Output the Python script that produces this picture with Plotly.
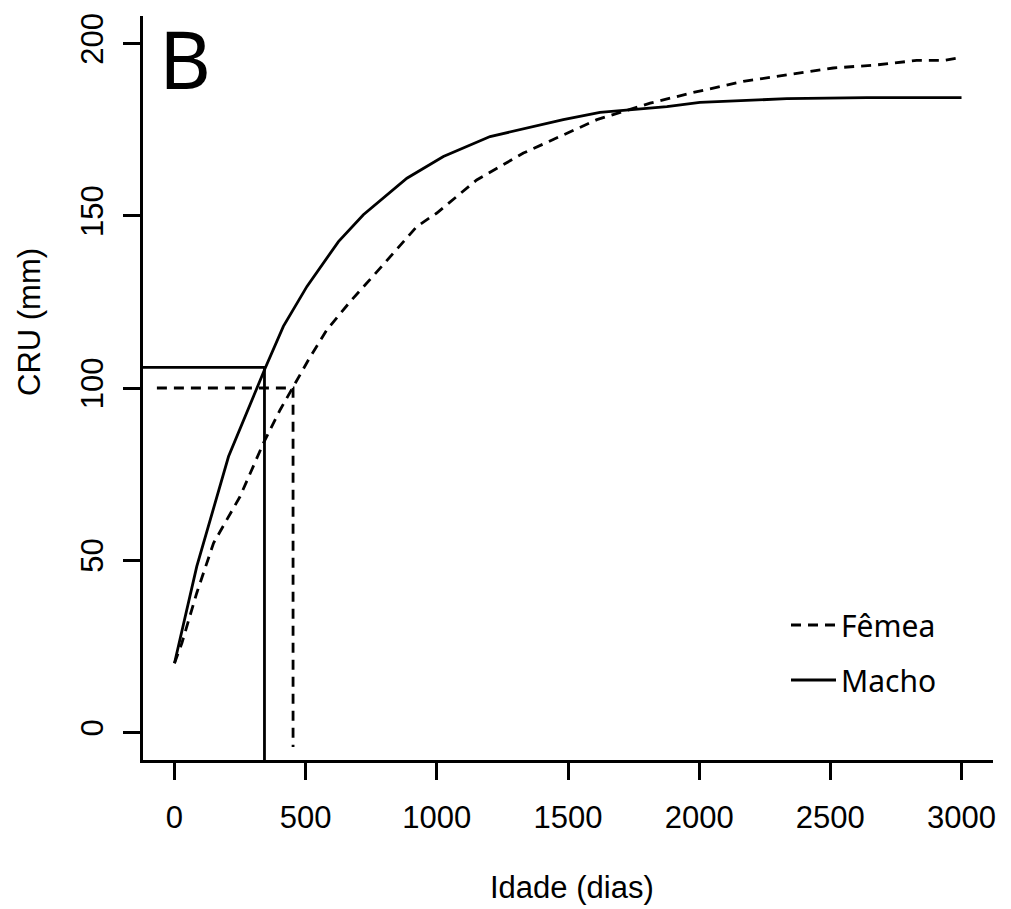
import plotly.graph_objects as go

# Growth curves (idade em dias vs CRU em mm)
macho_x = [0, 85, 206, 327, 346, 415, 505, 625, 720, 886, 1025, 1203, 1482, 1622,
           1877, 2003, 2156, 2334, 2639, 3000]
macho_y = [20.1, 48.2, 80.1, 102.4, 105.8, 117.9, 129.5, 142.5, 150.3, 160.9, 167.2,
           173.0, 177.9, 180.0, 181.7, 182.9, 183.5, 184.0, 184.3, 184.3]

femea_x = [0, 28, 85, 149, 250, 339, 403, 453, 511, 581, 670, 784, 924, 1000, 1152,
           1330, 1496, 1610, 1813, 1978, 2168, 2296, 2511, 2677, 2829, 2931, 3000]
femea_y = [20.1, 25.9, 40.5, 55.0, 68.5, 84.0, 93.7, 100.4, 108.2, 116.9, 125.1, 134.8,
           146.9, 150.8, 160.4, 168.2, 174.0, 177.9, 182.7, 185.8, 189.0, 190.4, 192.9,
           193.8, 195.1, 195.1, 196.0]

# Reference lines (age at which each sex reaches the marked length)
macho_ref_x = [-120, 343, 343]
macho_ref_y = [106, 106, -8]
femea_ref_x = [-67, 452, 452]
femea_ref_y = [100, 100, -4.2]

x_ticks = [0, 500, 1000, 1500, 2000, 2500, 3000]
y_ticks = [0, 50, 100, 150, 200]

x_title = "Idade (dias)"
y_title = "CRU (mm)"
panel_label = "B"

# layout geometry (pixels)
W, H = 1011, 909
L, R, T, B = 143, 18, 16, 149
pw, ph = W - L - R, H - T - B


def px_x(p):
    return (p - L) / pw


def px_y(p):
    return (H - B - p) / ph


DASH = "10px,7px"
LW = 2.8

fig = go.Figure()
fig.add_trace(go.Scatter(x=femea_x, y=femea_y, mode="lines", name="Fêmea",
                         legendgroup="f",
                         line=dict(color="black", width=LW, dash=DASH)))
fig.add_trace(go.Scatter(x=macho_x, y=macho_y, mode="lines", name="Macho",
                         legendgroup="m",
                         line=dict(color="black", width=LW)))
fig.add_trace(go.Scatter(x=macho_ref_x, y=macho_ref_y, mode="lines", showlegend=False,
                         line=dict(color="black", width=LW), hoverinfo="skip"))
fig.add_trace(go.Scatter(x=femea_ref_x, y=femea_ref_y, mode="lines", showlegend=False,
                         line=dict(color="black", width=LW, dash=DASH), hoverinfo="skip"))

tick_font = dict(family="Liberation Sans, Arial, sans-serif", size=31, color="black")

fig.update_layout(
    width=W, height=H,
    margin=dict(l=L, r=R, t=T, b=B, pad=0),
    paper_bgcolor="white", plot_bgcolor="white",
    showlegend=True,
    legend=dict(x=px_x(786), y=px_y(599), xanchor="left", yanchor="top",
                font=dict(family="Noto Sans, sans-serif", size=30, color="black"),
                bgcolor="rgba(0,0,0,0)", tracegroupgap=13, traceorder="grouped",
                itemwidth=45),
    xaxis=dict(range=[-120, 3120], tickvals=x_ticks, ticktext=[str(v) for v in x_ticks],
               showgrid=False, zeroline=False, showline=True, linecolor="black",
               linewidth=3, ticks="outside", ticklen=17, tickwidth=2.7,
               tickcolor="black", tickfont=tick_font, ticklabelstandoff=11),
    yaxis=dict(range=[-8, 208], tickvals=y_ticks, ticktext=[str(v) for v in y_ticks],
               showgrid=False, zeroline=False, showline=True, linecolor="black",
               linewidth=3, ticks="outside", ticklen=17, tickwidth=2.7,
               tickcolor="black", tickfont=tick_font, tickangle=-90,
               ticklabelstandoff=8),
    annotations=[
        dict(text=x_title, xref="paper", yref="paper", x=px_x(572), y=px_y(887),
             xanchor="center", yanchor="middle", showarrow=False,
             font=dict(family="Liberation Sans, Arial, sans-serif", size=31, color="black")),
        dict(text=y_title, xref="paper", yref="paper", x=px_x(29), y=px_y(322),
             xanchor="center", yanchor="middle", showarrow=False, textangle=-90,
             font=dict(family="Liberation Sans, Arial, sans-serif", size=31, color="black")),
        dict(text=panel_label, xref="paper", yref="paper", x=px_x(185), y=px_y(58),
             xanchor="center", yanchor="middle", showarrow=False,
             font=dict(family="Noto Sans, sans-serif", size=80, color="black")),
    ],
)

fig.write_html("out.html", config={"displayModeBar": False},
               post_script="document.body.style.margin='0';document.body.style.padding='0';")
